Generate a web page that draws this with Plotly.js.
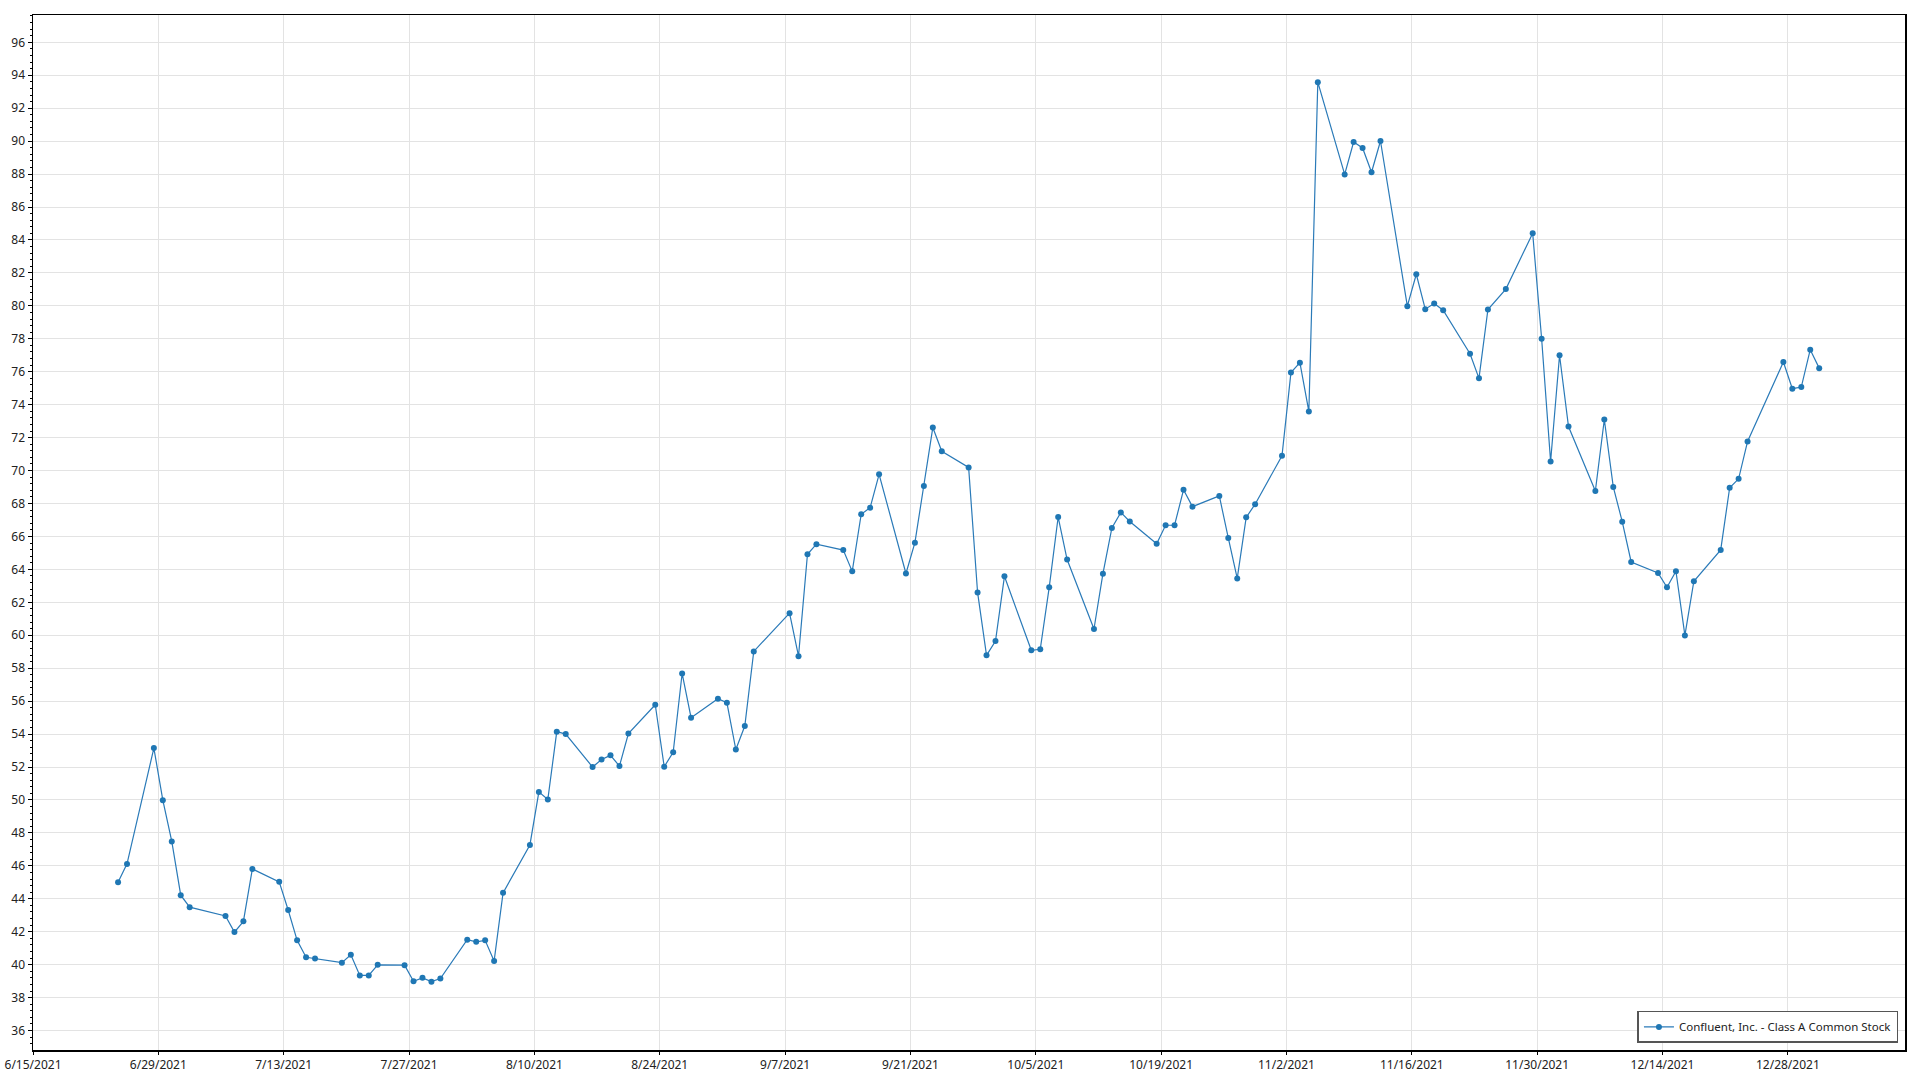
<!DOCTYPE html>
<html>
<head>
<meta charset="utf-8">
<script src="https://cdn.plot.ly/plotly-3.0.1.min.js"></script>
<style>
  html, body { margin: 0; padding: 0; background: #ffffff; }
  #chart { width: 1920px; height: 1080px; }
</style>
</head>
<body>
<div id="chart"></div>
<script>
const seriesName = "Confluent, Inc. - Class A Common Stock";

const dates = [
  "2021-06-24","2021-06-25","2021-06-28","2021-06-29","2021-06-30",
  "2021-07-01","2021-07-02","2021-07-06","2021-07-07","2021-07-08","2021-07-09",
  "2021-07-12","2021-07-13","2021-07-14","2021-07-15","2021-07-16",
  "2021-07-19","2021-07-20","2021-07-21","2021-07-22","2021-07-23",
  "2021-07-26","2021-07-27","2021-07-28","2021-07-29","2021-07-30",
  "2021-08-02","2021-08-03","2021-08-04","2021-08-05","2021-08-06",
  "2021-08-09","2021-08-10","2021-08-11","2021-08-12","2021-08-13",
  "2021-08-16","2021-08-17","2021-08-18","2021-08-19","2021-08-20",
  "2021-08-23","2021-08-24","2021-08-25","2021-08-26","2021-08-27",
  "2021-08-30","2021-08-31","2021-09-01","2021-09-02","2021-09-03",
  "2021-09-07","2021-09-08","2021-09-09","2021-09-10",
  "2021-09-13","2021-09-14","2021-09-15","2021-09-16","2021-09-17",
  "2021-09-20","2021-09-21","2021-09-22","2021-09-23","2021-09-24",
  "2021-09-27","2021-09-28","2021-09-29","2021-09-30","2021-10-01",
  "2021-10-04","2021-10-05","2021-10-06","2021-10-07","2021-10-08",
  "2021-10-11","2021-10-12","2021-10-13","2021-10-14","2021-10-15",
  "2021-10-18","2021-10-19","2021-10-20","2021-10-21","2021-10-22",
  "2021-10-25","2021-10-26","2021-10-27","2021-10-28","2021-10-29",
  "2021-11-01","2021-11-02","2021-11-03","2021-11-04","2021-11-05",
  "2021-11-08","2021-11-09","2021-11-10","2021-11-11","2021-11-12",
  "2021-11-15","2021-11-16","2021-11-17","2021-11-18","2021-11-19",
  "2021-11-22","2021-11-23","2021-11-24","2021-11-26",
  "2021-11-29","2021-11-30","2021-12-01","2021-12-02","2021-12-03",
  "2021-12-06","2021-12-07","2021-12-08","2021-12-09","2021-12-10",
  "2021-12-13","2021-12-14","2021-12-15","2021-12-16","2021-12-17",
  "2021-12-20","2021-12-21","2021-12-22","2021-12-23",
  "2021-12-27","2021-12-28","2021-12-29","2021-12-30","2021-12-31"
];

const prices = [
  45.00, 46.12, 53.15, 49.99, 47.48,
  44.22, 43.49, 42.96, 41.98, 42.63, 45.81,
  45.03, 43.32, 41.48, 40.45, 40.37,
  40.12, 40.60, 39.35, 39.35, 39.99,
  39.97, 38.99, 39.20, 38.97, 39.16,
  41.52, 41.39, 41.48, 40.22, 44.36,
  47.27, 50.49, 50.03, 54.15, 54.00,
  52.00, 52.46, 52.71, 52.06, 54.03,
  55.78, 52.02, 52.90, 57.68, 55.00,
  56.15, 55.91, 53.06, 54.49, 59.02,
  61.34, 58.73, 64.92, 65.53,
  65.17, 63.88, 67.35, 67.75, 69.77,
  63.75, 65.62, 69.06, 72.61, 71.17,
  70.19, 62.60, 58.78, 59.65, 63.58,
  59.09, 59.15, 62.91, 67.18, 64.60,
  60.38, 63.74, 66.52, 67.46, 66.91,
  65.56, 66.68, 66.68, 68.83, 67.81,
  68.46, 65.91, 63.45, 67.16, 67.96,
  70.90, 75.95, 76.55, 73.59, 93.58,
  87.98, 89.95, 89.59, 88.11, 90.01,
  79.98, 81.92, 79.80, 80.14, 79.74,
  77.09, 75.60, 79.78, 81.02,
  84.41, 78.00, 70.55, 77.00, 72.67,
  68.76, 73.10, 69.01, 66.90, 64.45,
  63.78, 62.91, 63.89, 59.99, 63.28,
  65.18, 68.96, 69.50, 71.77,
  76.59, 74.97, 75.07, 77.34, 76.22
];

const xRange = ["2021-06-15", "2022-01-10 02:00"];
const yRange = [34.82, 97.66];
const xTickStart = "2021-06-15";

const FONT = '"Segoe UI", "Noto Sans", "Open Sans", sans-serif';
const BLUE = '#2a7ab8';

const trace = {
  type: 'scatter',
  mode: 'lines+markers',
  name: seriesName,
  x: dates.map(d => d + ' 12:00'),
  y: prices,
  line: { color: BLUE, width: 1.2 },
  marker: { color: '#1f77b4', size: 6 },
  showlegend: true
};

const layout = {
  width: 1920,
  height: 1080,
  paper_bgcolor: '#ffffff',
  plot_bgcolor: '#ffffff',
  margin: { l: 33, r: 15, t: 15, b: 30, pad: 0 },
  font: { family: FONT, size: 12, color: '#222222' },
  showlegend: true,
  xaxis: {
    type: 'date',
    range: xRange,
    tick0: xTickStart,
    dtick: 14 * 86400000,
    tickformat: '%-m/%-d/%Y',
    showgrid: true,
    gridcolor: '#e3e3e3',
    gridwidth: 1,
    showline: true,
    linecolor: '#000000',
    linewidth: 1.5,
    mirror: true,
    ticks: 'outside',
    ticklen: 3,
    tickcolor: '#000000',
    tickfont: { family: FONT, size: 12, color: '#222222' },
    zeroline: false,
    automargin: false
  },
  yaxis: {
    range: yRange,
    tick0: 0,
    dtick: 2,
    showgrid: true,
    gridcolor: '#e3e3e3',
    gridwidth: 1,
    showline: true,
    linecolor: '#000000',
    linewidth: 1.5,
    mirror: true,
    ticks: 'outside',
    ticklen: 4,
    tickcolor: '#000000',
    minor: { dtick: 0.4, ticks: 'outside', ticklen: 2, tickcolor: '#000000', showgrid: false },
    tickfont: { family: FONT, size: 12, color: '#222222' },
    zeroline: false,
    automargin: false
  },
  legend: {
    x: 0.9965,
    y: 0.0068,
    xanchor: 'right',
    yanchor: 'bottom',
    bgcolor: '#ffffff',
    bordercolor: '#555555',
    borderwidth: 1.5,
    font: { family: FONT, size: 11.5, color: '#222222' },
    itemwidth: 30,
    itemsizing: 'trace'
  }
};

Plotly.newPlot('chart', [trace], layout, { displayModeBar: false, staticPlot: true });
</script>
</body>
</html>
